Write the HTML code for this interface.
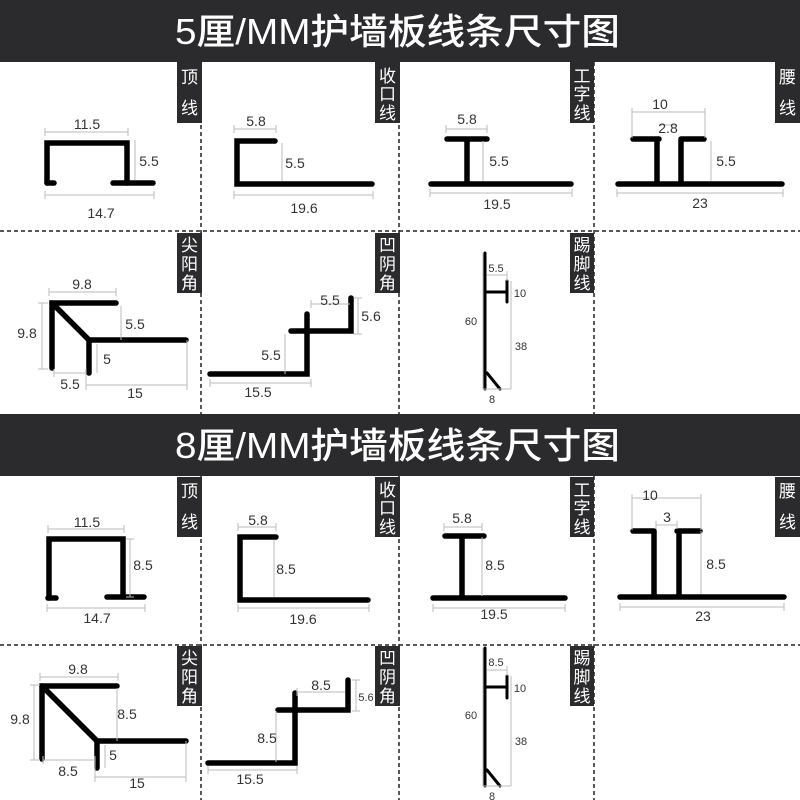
<!DOCTYPE html>
<html><head><meta charset="utf-8"><style>
html,body{margin:0;padding:0;background:#fff}
svg{display:block}
.p{stroke:#000;stroke-width:5.5;fill:none;stroke-linecap:round;stroke-linejoin:miter}
.t{stroke:#000;stroke-width:3;fill:none;stroke-linecap:round}
.d{stroke:#bbb;stroke-width:1;fill:none}
.x{font-family:"Liberation Sans",sans-serif;font-size:14px;fill:#333;text-anchor:middle}
.s{font-size:11px}
.g{stroke:#222;stroke-width:1.5;stroke-dasharray:4 3;fill:none}
.lb{font-family:"Liberation Sans","Noto Sans CJK SC",sans-serif;font-size:17px;fill:#fff;text-anchor:middle}
.tt{font-family:"Liberation Sans","Noto Sans CJK SC",sans-serif;font-size:36px;fill:#fff;font-weight:500}
</style></head><body>
<svg width="800" height="800" viewBox="0 0 800 800" xmlns="http://www.w3.org/2000/svg">
<rect x="0" y="0" width="800" height="62" fill="#2b2b2e"/>
<text class="tt" x="175" y="44" textLength="445" lengthAdjust="spacingAndGlyphs">5厘/MM护墙板线条尺寸图</text>
<rect x="0" y="414" width="800" height="62" fill="#2b2b2e"/>
<text class="tt" x="175" y="458" textLength="445" lengthAdjust="spacingAndGlyphs">8厘/MM护墙板线条尺寸图</text>

<line class="g" x1="201" y1="62" x2="201" y2="414"/>
<line class="g" x1="399" y1="62" x2="399" y2="414"/>
<line class="g" x1="594" y1="62" x2="594" y2="414"/>
<line class="g" x1="0" y1="231" x2="800" y2="231"/>
<line class="g" x1="201" y1="476" x2="201" y2="800"/>
<line class="g" x1="399" y1="476" x2="399" y2="800"/>
<line class="g" x1="594" y1="476" x2="594" y2="800"/>
<line class="g" x1="0" y1="645" x2="800" y2="645"/>

<rect x="177" y="62" width="25" height="61" fill="#2b2b2e"/><text class="lb" x="189.5" y="83">顶</text><text class="lb" x="189.5" y="114">线</text>
<rect x="375" y="62" width="25" height="61" fill="#2b2b2e"/><text class="lb" x="387.5" y="82">收</text><text class="lb" x="387.5" y="100">口</text><text class="lb" x="387.5" y="119">线</text>
<rect x="570" y="62" width="24" height="61" fill="#2b2b2e"/><text class="lb" x="582" y="82">工</text><text class="lb" x="582" y="100">字</text><text class="lb" x="582" y="119">线</text>
<rect x="775" y="62" width="25" height="61" fill="#2b2b2e"/><text class="lb" x="787.5" y="83">腰</text><text class="lb" x="787.5" y="114">线</text>
<rect x="177" y="233" width="25" height="60" fill="#2b2b2e"/><text class="lb" x="189.5" y="251">尖</text><text class="lb" x="189.5" y="270">阳</text><text class="lb" x="189.5" y="289">角</text>
<rect x="375" y="233" width="25" height="60" fill="#2b2b2e"/><text class="lb" x="387.5" y="251">凹</text><text class="lb" x="387.5" y="270">阴</text><text class="lb" x="387.5" y="289">角</text>
<rect x="570" y="233" width="24" height="60" fill="#2b2b2e"/><text class="lb" x="582" y="251">踢</text><text class="lb" x="582" y="270">脚</text><text class="lb" x="582" y="289">线</text>
<rect x="177" y="477" width="25" height="60" fill="#2b2b2e"/><text class="lb" x="189.5" y="497">顶</text><text class="lb" x="189.5" y="528">线</text>
<rect x="375" y="477" width="25" height="60" fill="#2b2b2e"/><text class="lb" x="387.5" y="496">收</text><text class="lb" x="387.5" y="514">口</text><text class="lb" x="387.5" y="533">线</text>
<rect x="570" y="477" width="24" height="60" fill="#2b2b2e"/><text class="lb" x="582" y="496">工</text><text class="lb" x="582" y="514">字</text><text class="lb" x="582" y="533">线</text>
<rect x="775" y="477" width="25" height="60" fill="#2b2b2e"/><text class="lb" x="787.5" y="497">腰</text><text class="lb" x="787.5" y="528">线</text>
<rect x="177" y="646" width="25" height="60" fill="#2b2b2e"/><text class="lb" x="189.5" y="664">尖</text><text class="lb" x="189.5" y="683">阳</text><text class="lb" x="189.5" y="702">角</text>
<rect x="375" y="646" width="25" height="60" fill="#2b2b2e"/><text class="lb" x="387.5" y="664">凹</text><text class="lb" x="387.5" y="683">阴</text><text class="lb" x="387.5" y="702">角</text>
<rect x="570" y="646" width="24" height="60" fill="#2b2b2e"/><text class="lb" x="582" y="664">踢</text><text class="lb" x="582" y="683">脚</text><text class="lb" x="582" y="702">线</text>

<path class="p" d="M47 183 V143 H127 V183"/><path class="p" d="M47 183 H54"/><path class="p" d="M113 183 H153"/>
<path class="d" d="M45 132 H128 M45 128 V136 M128 128 V136 M135 140 V180 M45 195 H154 M45 191 V199 M154 191 V199"/>
<text class="x" x="87" y="129">11.5</text><text class="x" x="149" y="166">5.5</text><text class="x" x="101" y="218">14.7</text>
<path class="p" d="M275 141 H237 V184 H372"/>
<path class="d" d="M234 129 H276 M234 125 V133 M276 125 V133 M282 143 V181 M234 195 H373 M234 191 V199 M373 191 V199"/>
<text class="x" x="256" y="126">5.8</text><text class="x" x="295" y="168">5.5</text><text class="x" x="304" y="213">19.6</text>
<path class="p" d="M447 139 H487 M467 139 V184 M431 184 H571"/>
<path class="d" d="M446 129 H487 M446 125 V133 M487 125 V133 M483 141 V181 M430 193 H572 M430 189 V197 M572 189 V197"/>
<text class="x" x="467" y="124">5.8</text><text class="x" x="499" y="166">5.5</text><text class="x" x="497" y="209">19.5</text>
<path class="p" d="M633 139 H659 M681 139 H704 M657 139 V184 M681 139 V184 M618 184 H782"/>
<path class="d" d="M632 112 H705 M632 108 V138 M705 108 V138 M659 125 H677 M711 141 V181 M617 193 H783 M617 189 V197 M783 189 V197"/>
<text class="x" x="660" y="109">10</text><text class="x" x="668" y="133">2.8</text><text class="x" x="726" y="166">5.5</text><text class="x" x="700" y="208">23</text>
<path class="p" d="M116 303 H52 V368"/><path class="p" d="M52 303 L89 340"/><path class="p" d="M89 373 V340 H186"/>
<path class="d" d="M49 292 H116 M49 288 V296 M116 288 V296 M42 303 V369 M38 303 H48 M38 369 H48 M121 306 V340 M97 344 V373 M54 373 H86 M54 369 V377 M86 369 V390 M86 385 H187 M187 340 V390"/>
<text class="x" x="82" y="289">9.8</text><text class="x" x="27" y="338">9.8</text><text class="x" x="135" y="329">5.5</text><text class="x" x="107" y="364">5</text><text class="x" x="70" y="389">5.5</text><text class="x" x="135" y="398">15</text>
<path class="p" d="M210 374 H307 V314"/><path class="p" d="M291 331 H351 V298"/>
<path class="d" d="M311 304 H350 M311 300 V308 M358 298 V334 M354 298 H362 M354 334 H362 M285 334 V374 M210 383 H311 M210 379 V387 M311 379 V387"/>
<text class="x" x="330" y="305">5.5</text><text class="x" x="371" y="321">5.6</text><text class="x" x="271" y="360">5.5</text><text class="x" x="258" y="397">15.5</text>
<path class="t" d="M485 253 V389"/><path class="t" d="M485 292 H507 M507 281 V302"/><path class="t" d="M487 373 L500 389"/>
<path class="d" d="M483 253 V389 M487 275 H507 M507 271 V281 M511 281 V389 M483 389 H511"/>
<text class="x s" x="496" y="272">5.5</text><text class="x s" x="520" y="297">10</text><text class="x s" x="471" y="325">60</text><text class="x s" x="521" y="350">38</text><text class="x s" x="492" y="403">8</text>

<path class="p" d="M49 598 V539 H123 V597"/><path class="p" d="M48 598 H56"/><path class="p" d="M107 597 H144"/>
<path class="d" d="M48 529 H124 M48 525 V533 M124 525 V533 M130 539 V597 M126 539 H134 M126 597 H134 M47 608 H145 M47 604 V612 M145 604 V612"/>
<text class="x" x="87" y="527">11.5</text><text class="x" x="143" y="570">8.5</text><text class="x" x="97" y="623">14.7</text>
<path class="p" d="M276 537 H240 V600 H368"/>
<path class="d" d="M238 527 H276 M238 523 V531 M276 523 V531 M274 540 V597 M238 608 H369 M238 604 V612 M369 604 V612"/>
<text class="x" x="258" y="525">5.8</text><text class="x" x="286" y="574">8.5</text><text class="x" x="303" y="624">19.6</text>
<path class="p" d="M445 536 H484 M462 536 V597 M433 598 H565"/>
<path class="d" d="M444 527 H482 M444 523 V531 M482 523 V531 M482 537 V596 M433 608 H565 M433 604 V612 M565 604 V612"/>
<text class="x" x="462" y="523">5.8</text><text class="x" x="495" y="570">8.5</text><text class="x" x="494" y="619">19.5</text>
<path class="p" d="M633 531 H654 M677 531 H700 M654 531 V596 M679 531 V596 M620 597 H784"/>
<path class="d" d="M632 498 H701 M632 494 V530 M701 494 V530 M656 525 H677 M656 521 V529 M677 521 V529 M701 531 V594 M620 607 H784 M620 603 V611 M784 603 V611"/>
<text class="x" x="650" y="500">10</text><text class="x" x="667" y="522">3</text><text class="x" x="716" y="569">8.5</text><text class="x" x="703" y="621">23</text>
<path class="p" d="M117 686 H42 V759"/><path class="p" d="M42 686 L97 741"/><path class="p" d="M97 768 V741 H186"/>
<path class="d" d="M40 677 H118 M40 673 V681 M118 673 V681 M34 685 V760 M30 685 H40 M30 760 H40 M117 688 V741 M105 745 V768 M43 760 H95 M43 756 V764 M95 756 V782 M95 777 H186 M186 741 V782"/>
<text class="x" x="78" y="674">9.8</text><text class="x" x="20" y="724">9.8</text><text class="x" x="127" y="719">8.5</text><text class="x" x="113" y="760">5</text><text class="x" x="68" y="776">8.5</text><text class="x" x="137" y="788">15</text>
<path class="p" d="M208 763 H295 V693"/><path class="p" d="M278 710 H348 V680"/>
<path class="d" d="M297 692 H345 M297 688 V696 M356 680 V711 M352 680 H360 M352 711 H360 M276 711 V762 M208 770 H297 M208 766 V774 M297 766 V774"/>
<text class="x" x="321" y="690">8.5</text><text class="x s" x="366" y="701">5.6</text><text class="x" x="267" y="743">8.5</text><text class="x" x="250" y="784">15.5</text>
<path class="t" d="M485 648 V786"/><path class="t" d="M485 687 H507 M507 676 V698"/><path class="t" d="M487 770 L500 786"/>
<path class="d" d="M483 648 V786 M487 670 H507 M507 666 V676 M511 676 V786 M483 786 H511"/>
<text class="x s" x="496" y="666">8.5</text><text class="x s" x="520" y="692">10</text><text class="x s" x="471" y="719">60</text><text class="x s" x="521" y="745">38</text><text class="x s" x="492" y="800">8</text>
</svg>
</body></html>
